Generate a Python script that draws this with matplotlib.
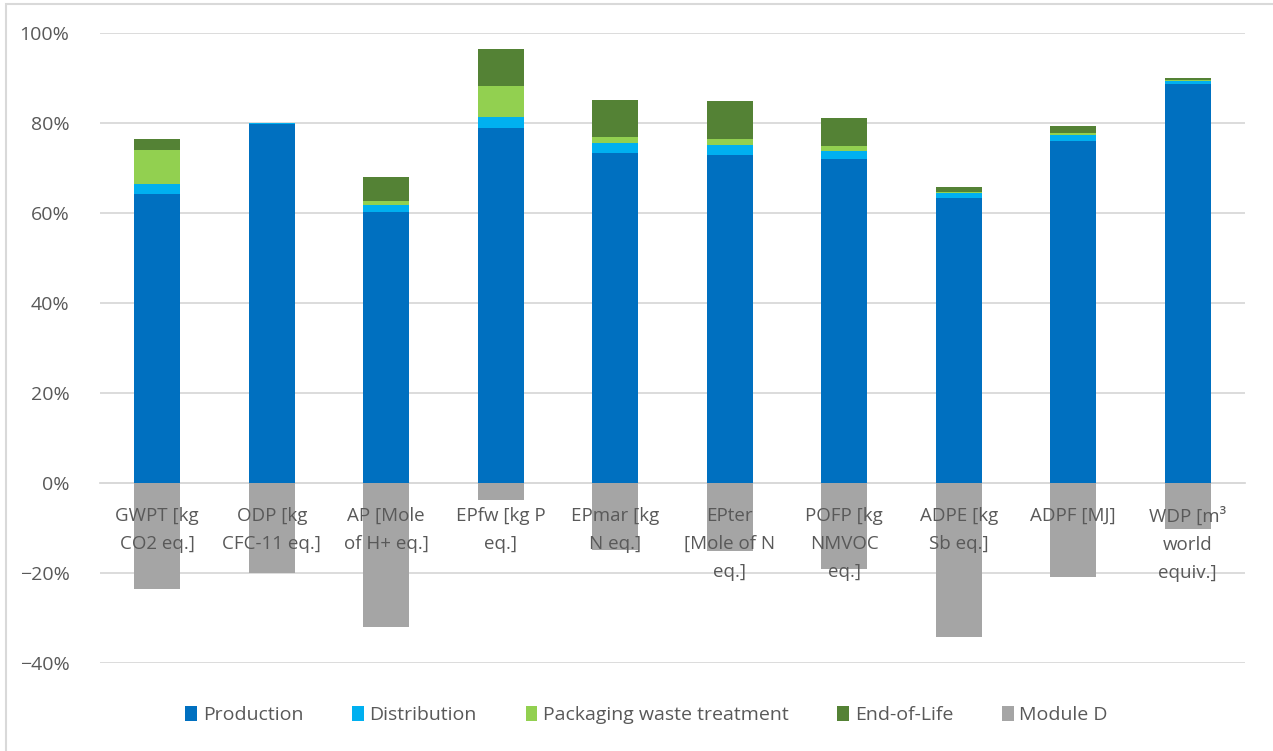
import numpy as np
import matplotlib.pyplot as plt
from matplotlib.patches import Rectangle
from matplotlib.ticker import PercentFormatter

plt.rcParams['font.family'] = ['Open Sans', 'DejaVu Sans']

# impact categories
categories = ["GWPT [kg\nCO2 eq.]", "ODP [kg\nCFC-11 eq.]", "AP [Mole\nof H+ eq.]",
              "EPfw [kg P\neq.]", "EPmar [kg\nN eq.]", "EPter\n[Mole of N\neq.]",
              "POFP [kg\nNMVOC\neq.]", "ADPE [kg\nSb eq.]", "ADPF [MJ]",
              "WDP [m³\nworld\nequiv.]"]

# shares in %
production   = [64.2, 79.8, 60.3, 79.0, 73.4, 73.0, 72.1, 63.4, 76.1, 88.7]
distribution = [2.2, 0.1, 1.5, 2.4, 2.1, 2.2, 1.7, 1.0, 1.3, 0.6]
packaging    = [7.6, 0.0, 0.9, 6.8, 1.5, 1.3, 1.2, 0.3, 0.4, 0.2]
end_of_life  = [2.4, 0.1, 5.3, 8.2, 8.1, 8.3, 6.1, 1.1, 1.5, 0.4]
module_d     = [-23.6, -20.1, -32.1, -3.8, -14.9, -15.2, -19.0, -34.3, -20.9, -10.2]

series = [("Production", production, "#0070C0"),
          ("Distribution", distribution, "#00B0F0"),
          ("Packaging waste treatment", packaging, "#92D050"),
          ("End-of-Life", end_of_life, "#548235")]

fig = plt.figure(figsize=(12.73, 7.51), dpi=100)
ax = fig.add_axes([100 / 1273, 88 / 751, 1145 / 1273, 630 / 751])

x = np.arange(len(categories))
width = 0.4
bottom = np.zeros(len(categories))
for name, vals, color in series:
    ax.bar(x, vals, width, bottom=bottom, color=color, label=name, zorder=3)
    bottom += np.array(vals)
ax.bar(x, module_d, width, color="#A5A5A5", label="Module D", zorder=3)

ax.set_xlim(-0.5, len(categories) - 0.5)
ax.set_ylim(-40, 100)
ax.set_yticks(np.arange(-40, 101, 20))
ax.yaxis.set_major_formatter(PercentFormatter(decimals=0))
ax.grid(axis="y", color="#d9d9d9", linewidth=1.3)
ax.yaxis.set_zorder(1)

for s in ["top", "right", "left"]:
    ax.spines[s].set_visible(False)
ax.spines["bottom"].set_position(("data", 0))
ax.spines["bottom"].set_color("#d9d9d9")
ax.spines["bottom"].set_linewidth(1.3)

# category labels sit on top of the Module D bars, like in Excel
ax.xaxis.set_zorder(5)
ax.set_xticks(x)
ax.set_xticklabels(categories, fontsize=13.5, color="#595959", linespacing=1.72)
ax.tick_params(axis="x", length=0, pad=17)
ax.tick_params(axis="y", length=0, pad=22, labelsize=14, labelcolor="#595959")

fig.legend(loc="center", bbox_to_anchor=(0.508, 0.048), ncol=5, frameon=False,
           fontsize=14, labelcolor="#595959", handlelength=0.6, handleheight=0.8,
           handletextpad=0.3, columnspacing=2.5)

fig.patches.append(Rectangle((6 / 1273, -0.1), 1.2, (751 - 4) / 751 + 0.1,
                             transform=fig.transFigure, fill=False,
                             edgecolor="#d9d9d9", linewidth=1.5))

fig.savefig("out.png", dpi=100)
